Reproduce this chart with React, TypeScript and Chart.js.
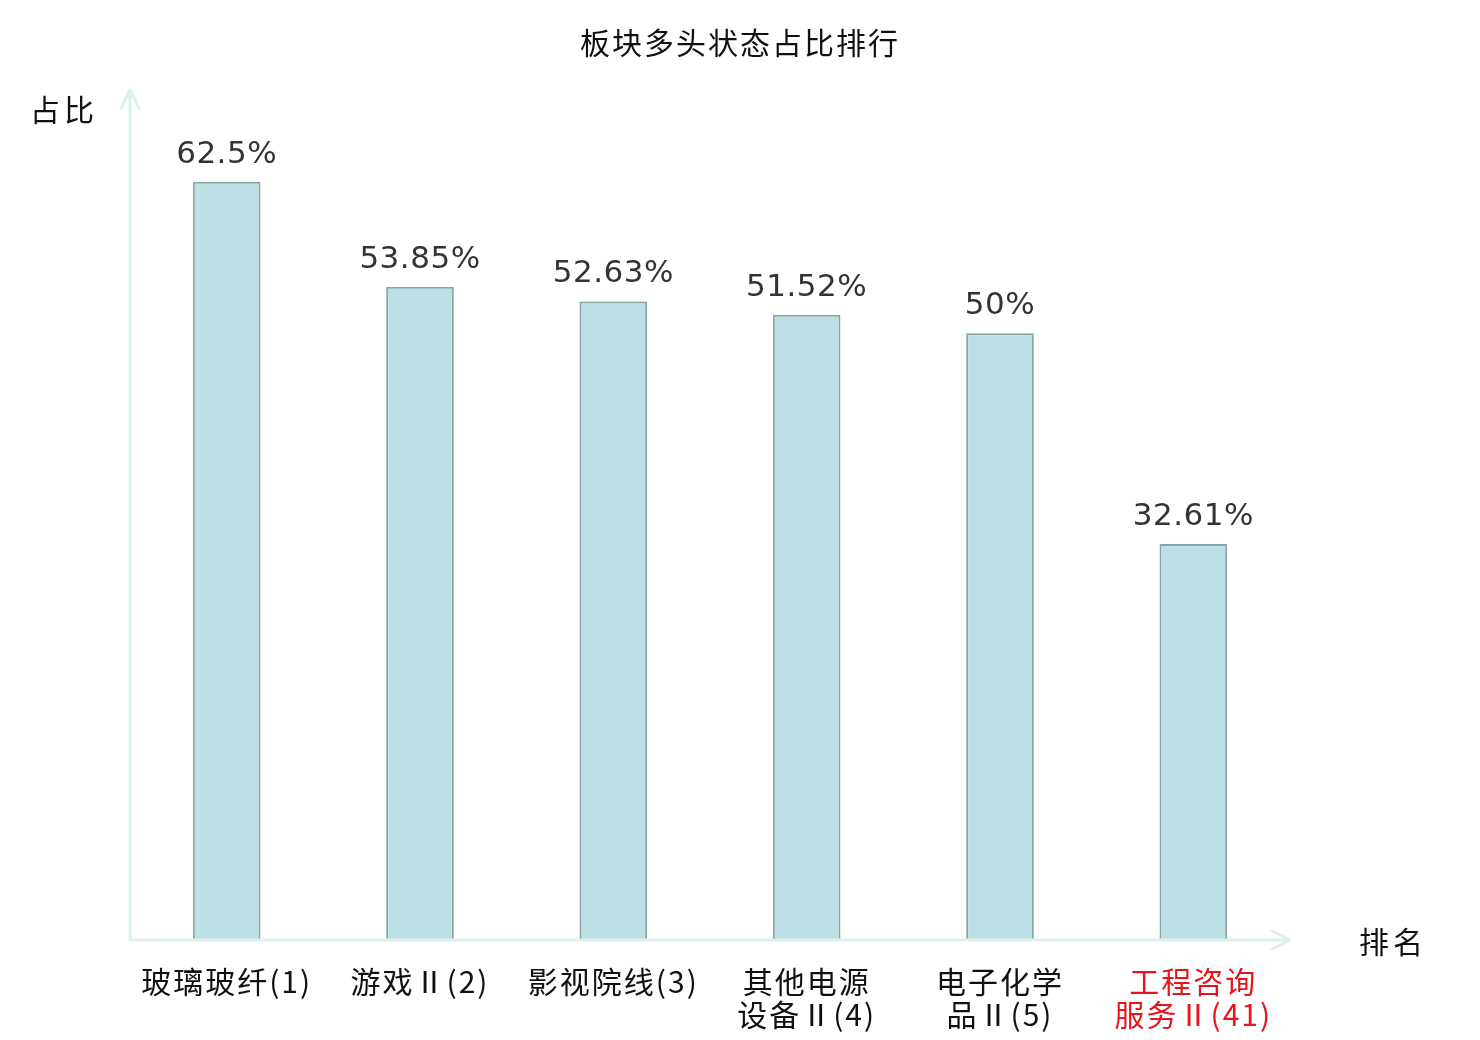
import { useEffect, useRef } from 'react';
import { Chart, registerables, Plugin } from 'chart.js';

Chart.register(...registerables);

const TITLE = '板块多头状态占比排行';
const Y_NAME = '占比';
const X_NAME = '排名';

const categories: string[][] = [
  ['玻璃玻纤(1)'],
  ['游戏Ⅱ(2)'],
  ['影视院线(3)'],
  ['其他电源', '设备Ⅱ(4)'],
  ['电子化学', '品Ⅱ(5)'],
  ['工程咨询', '服务Ⅱ(41)'],
];
const shares = [62.5, 53.85, 52.63, 51.52, 50, 32.61];
const shareLabels = ['62.5%', '53.85%', '52.63%', '51.52%', '50%', '32.61%'];
const labelColors = ['#111', '#111', '#111', '#111', '#111', '#e8141c'];

const CJK = '"Noto Sans CJK SC", "Noto Sans", sans-serif';
const AXIS_COLOR = '#dcf1ee';

// wider glyph spacing for the CJK texts (tick labels use it too)
const spacingPlugin: Plugin<'bar'> = {
  id: 'spacing',
  beforeDraw(chart) {
    (chart.ctx as any).letterSpacing = '2px';
  },
};

const decorPlugin: Plugin<'bar'> = {
  id: 'decor',
  afterDraw(chart) {
    const { ctx, chartArea } = chart;
    const x0 = chartArea.left;
    const y0 = chartArea.bottom;
    const yTop = chartArea.top - 1;
    const xEnd = chartArea.right;
    ctx.save();

    // axes with open arrow heads
    ctx.strokeStyle = AXIS_COLOR;
    ctx.lineWidth = 3;
    ctx.lineCap = 'round';
    ctx.lineJoin = 'round';
    ctx.beginPath();
    ctx.moveTo(x0, y0);
    ctx.lineTo(x0, yTop);
    ctx.moveTo(x0 - 9, yTop + 18);
    ctx.lineTo(x0, yTop);
    ctx.lineTo(x0 + 9, yTop + 18);
    ctx.moveTo(x0, y0 + 1);
    ctx.lineTo(xEnd, y0 + 1);
    ctx.moveTo(xEnd - 18, y0 - 8);
    ctx.lineTo(xEnd, y0 + 1);
    ctx.lineTo(xEnd - 18, y0 + 10);
    ctx.stroke();

    // title and axis names
    (ctx as any).letterSpacing = '2px';
    ctx.fillStyle = '#111';
    ctx.font = `30px ${CJK}`;
    ctx.textAlign = 'center';
    ctx.textBaseline = 'middle';
    ctx.fillText(TITLE, chart.width / 2, 43);
    (ctx as any).letterSpacing = '4px';
    ctx.fillText(Y_NAME, 64, 110);
    ctx.fillText(X_NAME, 1393, 942);

    // value labels above bars
    (ctx as any).letterSpacing = '0.5px';
    const meta = chart.getDatasetMeta(0);
    ctx.fillStyle = '#333';
    ctx.font = '31px "DejaVu Sans", sans-serif';
    ctx.textBaseline = 'alphabetic';
    meta.data.forEach((bar, i) => {
      ctx.fillText(shareLabels[i], bar.x, bar.y - 19);
    });
    ctx.restore();
    (ctx as any).letterSpacing = '0px';
  },
};

export default function App() {
  const canvasRef = useRef<HTMLCanvasElement>(null);
  const chartRef = useRef<Chart<'bar'> | null>(null);

  useEffect(() => {
    document.body.style.margin = '0';
    document.body.style.background = '#fff';
    if (!canvasRef.current) return;
    const ctx = canvasRef.current.getContext('2d');
    if (!ctx) return;
    if (chartRef.current) chartRef.current.destroy();

    chartRef.current = new Chart(ctx, {
      type: 'bar',
      data: {
        labels: categories,
        datasets: [
          {
            data: shares,
            backgroundColor: '#bce0e3',
            borderColor: '#88a5a5',
            borderWidth: 2,
            barPercentage: 0.35,
            categoryPercentage: 1,
          },
        ],
      },
      options: {
        responsive: false,
        animation: false,
        layout: { padding: { left: 130, right: 190, top: 91, bottom: 0 } },
        plugins: {
          legend: { display: false },
          title: { display: false },
          tooltip: { enabled: false },
        },
        scales: {
          x: {
            offset: true,
            grid: { display: false, drawTicks: false },
            border: { display: false },
            ticks: {
              autoSkip: false,
              maxRotation: 0,
              minRotation: 0,
              padding: 27,
              color: (c) => labelColors[c.index] ?? '#111',
              font: { family: CJK, size: 30, lineHeight: 1.07 },
            },
            afterFit: (scale) => {
              scale.height = 101;
            },
          },
          y: {
            display: false,
            min: 0,
            max: 70,
          },
        },
      },
      plugins: [spacingPlugin, decorPlugin],
    });

    return () => {
      if (chartRef.current) {
        chartRef.current.destroy();
        chartRef.current = null;
      }
    };
  }, []);

  return (
    <div style={{ width: 1480, height: 1040, background: '#fff' }}>
      <canvas ref={canvasRef} width={1480} height={1040}></canvas>
    </div>
  );
}
